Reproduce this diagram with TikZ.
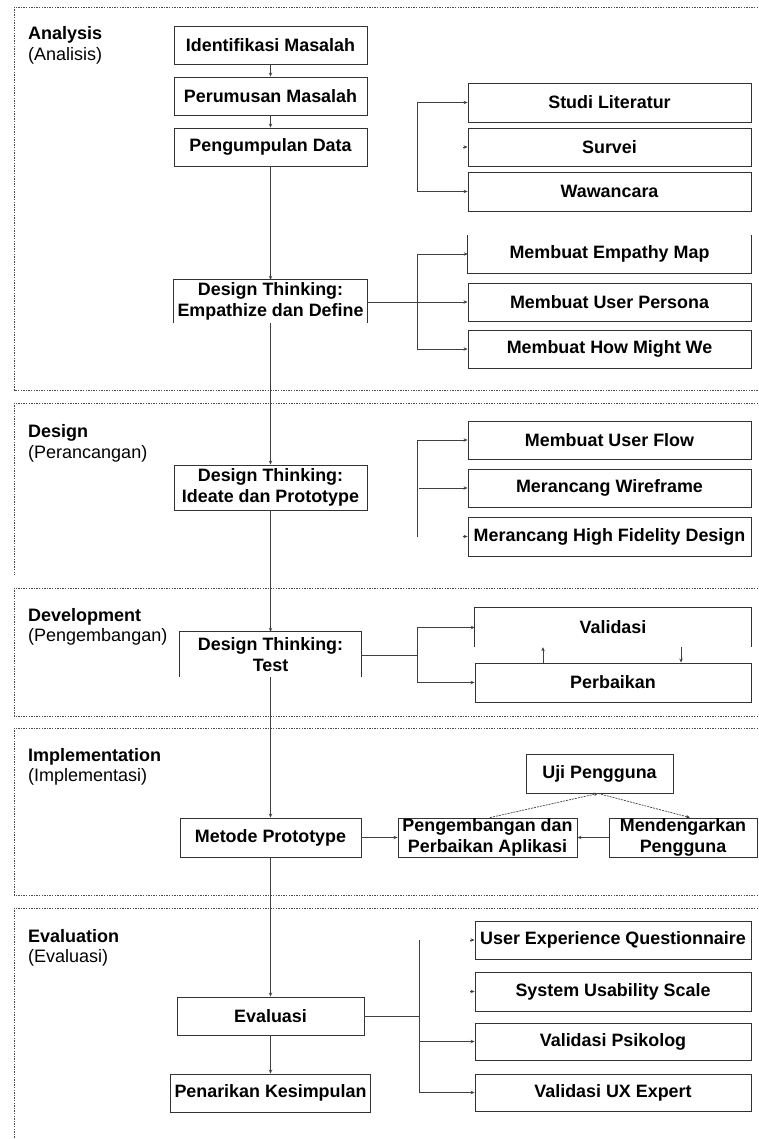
\documentclass[tikz,border=0pt]{standalone}
\usepackage{fontspec}
\setmainfont{Liberation Sans}
\usetikzlibrary{arrows.meta}
\begin{document}
\begin{tikzpicture}[x=1pt,y=-1pt,
  box/.style={draw=black!80,line width=0.9pt,inner sep=0pt,align=center,
    font=\bfseries\fontsize{17.9}{21.5}\selectfont},
  openbox/.style={inner sep=0pt,align=center,
    font=\bfseries\fontsize{17.9}{21.5}\selectfont},
  side/.style={draw=black!80,line width=0.9pt},
  conn/.style={draw=black!75,line width=0.7pt},
  arr/.style={conn,-{Stealth[length=4pt,width=3.4pt]}},
  dsh/.style={arr,dash pattern=on 2pt off 1pt},
  sect/.style={draw=black!70,line width=0.6pt,dash pattern=on 1.4pt off 1.2pt},
  sttl/.style={anchor=base west,inner sep=0pt,font=\bfseries\fontsize{18}{20}\selectfont},
  ssub/.style={anchor=base west,inner sep=0pt,font=\fontsize{18}{20}\selectfont}
]
\useasboundingbox (0,0) rectangle (758,1139);
\fill[white] (0,0) rectangle (758,1139);

% sections
\draw[sect] (758,7) -- (14,7) -- (14,390) -- (758,390);
\draw[sect] (758,403) -- (14,403) -- (14,575);
\draw[sect] (758,588) -- (14,588) -- (14,716) -- (758,716);
\draw[sect] (758,728) -- (14,728) -- (14,895) -- (758,895);
\draw[sect] (758,908) -- (14,908) -- (14,1139);

% section titles
\node[sttl] (t1) at (28,40) {Analysis};
\node[ssub] (s1) at (28,61) {(Analisis)};
\node[sttl] (t2) at (28,437) {Design};
\node[ssub] (s2) at (28,458) {(Perancangan)};
\node[sttl] (t3) at (28,621) {Development};
\node[ssub] (s3) at (28,641) {(Pengembangan)};
\node[sttl] (t4) at (28,761) {Implementation};
\node[ssub] (s4) at (28,781) {(Implementasi)};
\node[sttl] (t5) at (28,942) {Evaluation};
\node[ssub] (s5) at (28,962) {(Evaluasi)};

% main column
\node[box,minimum width=193,minimum height=38] (im) at (270.5,45) {Identifikasi Masalah};
\node[box,minimum width=193,minimum height=38] (pm) at (270.5,96) {Perumusan Masalah};
\node[box,minimum width=193,minimum height=38] (pd) at (270.5,147) {Pengumpulan Data};
\node[openbox,minimum width=193,minimum height=43] (dt1) at (270.5,301.5) {Design Thinking:\\Empathize dan Define};
\draw[side] (dt1.south west) -- (dt1.north west) -- (dt1.north east) -- (dt1.south east);
\node[box,minimum width=193,minimum height=45] (dt2) at (270.5,487.5) {Design Thinking:\\Ideate dan Prototype};
\node[openbox,minimum width=181,minimum height=45] (dt3) at (270.5,654.5) {Design Thinking:\\Test};
\draw[side] (dt3.south west) -- (dt3.north west) -- (dt3.north east) -- (dt3.south east);
\node[box,minimum width=181,minimum height=39] (mp) at (270.5,837.5) {Metode Prototype};
\node[box,minimum width=187,minimum height=38] (ev) at (270.5,1016) {Evaluasi};
\node[box,minimum width=200,minimum height=38] (pk) at (270.5,1093) {Penarikan Kesimpulan};

% right column analysis
\node[box,minimum width=283,minimum height=39] (sl) at (609.5,102.5) {Studi Literatur};
\node[box,minimum width=283,minimum height=38] (sv) at (609.5,147) {Survei};
\node[box,minimum width=283,minimum height=39] (ww) at (609.5,191.5) {Wawancara};
\node[openbox,minimum width=283,minimum height=38] (em) at (609.5,254) {Membuat Empathy Map};
\draw[side] (em.north west) -- (em.south west) -- (em.south east) -- (em.north east);
\node[box,minimum width=283,minimum height=38] (up) at (609.5,302) {Membuat User Persona};
\node[box,minimum width=283,minimum height=38] (hm) at (609.5,349) {Membuat How Might We};

% design
\node[box,minimum width=283,minimum height=38] (uf) at (609.5,440) {Membuat User Flow};
\node[box,minimum width=283,minimum height=38] (wf) at (609.5,488) {Merancang Wireframe};
\node[box,minimum width=283,minimum height=39] (hf) at (609.5,536.5) {Merancang High Fidelity Design};

% development
\node[openbox,minimum width=276,minimum height=39] (va) at (613,627.5) {Validasi};
\draw[side] (va.south west) -- (va.north west) -- (va.north east) -- (va.south east);
\node[box,minimum width=276,minimum height=39] (pb) at (613,682.5) {Perbaikan};

% implementation
\node[box,minimum width=147,minimum height=39] (uji) at (599.5,773.5) {Uji Pengguna};
\node[box,minimum width=179,minimum height=39] (ppa) at (487.5,837.5) {Pengembangan dan\\Perbaikan Aplikasi};
\node[box,minimum width=148,minimum height=39] (mdp) at (683,837.5) {Mendengarkan\\Pengguna};

% evaluation
\node[box,minimum width=276,minimum height=38] (ueq) at (613,940) {User Experience Questionnaire};
\node[box,minimum width=276,minimum height=39] (sus) at (613,991.5) {System Usability Scale};
\node[box,minimum width=276,minimum height=37] (vp) at (613,1041.5) {Validasi Psikolog};
\node[box,minimum width=276,minimum height=37] (vux) at (613,1092.5) {Validasi UX Expert};

% main arrows
\draw[arr] (im) -- (pm);
\draw[arr] (pm) -- (pd);
\draw[arr] (pd) -- (dt1);
\draw[arr] (dt1) -- (dt2);
\draw[arr] (dt2) -- (dt3);
\draw[arr] (dt3) -- (mp);
\draw[arr] (mp) -- (ev);
\draw[arr] (ev) -- (pk);

% bracket 1
\coordinate (b1t) at (417,102.5);
\coordinate (b1b) at (417,191.5);
\coordinate (svt) at (463,147);
\draw[arr] (b1b) -- (b1t) -- (sl.west);
\draw[arr] (b1t) -- (b1b) -- (ww.west);
\draw[arr] (svt) -- (sv.west);

% bracket 2
\coordinate (b2t) at (417,254);
\coordinate (b2b) at (417,349);
\draw[arr] (dt1.east |- up.west) -- (up.west);
\draw[arr] (b2b) -- (b2t) -- (em.west);
\draw[arr] (b2t) -- (b2b) -- (hm.west);

% bracket 3
\coordinate (b3t) at (417,440);
\coordinate (b3b) at (417,537);
\coordinate (b3m) at (419,488);
\coordinate (hft) at (463,536.5);
\draw[arr] (b3b) -- (b3t) -- (uf.west);
\draw[arr] (b3m) -- (wf.west);
\draw[arr] (hft) -- (hf.west);

% bracket 4
\coordinate (b4t) at (417,627.5);
\coordinate (b4b) at (417,682.5);
\coordinate (b4m) at (417,655);
\draw[conn] (dt3.east |- b4m) -- (b4m);
\draw[arr] (b4b) -- (b4t) -- (va.west);
\draw[arr] (b4t) -- (b4b) -- (pb.west);
\coordinate (ux) at (543,0);
\coordinate (dx) at (681,0);
\draw[arr] (pb.north -| ux) -- (va.south -| ux);
\draw[arr] (va.south -| dx) -- (pb.north -| dx);

% implementation
\coordinate (p1) at (490,0);
\coordinate (p2) at (598,0);
\coordinate (p3) at (690,0);
\draw[arr] (mp.east) -- (ppa.west);
\draw[arr] (mdp.west) -- (ppa.east);
\draw[dsh] (ppa.north -| p1) -- (uji.south -| p2);
\draw[dsh] (uji.south -| p2) -- (mdp.north -| p3);

% bracket 5
\coordinate (b5t) at (419,940);
\coordinate (b5b) at (419,1092.5);
\coordinate (b5m) at (419,1016);
\coordinate (uqt) at (470,940);
\coordinate (sst) at (470,991.5);
\draw[conn] (ev.east) -- (b5m);
\draw[conn] (b5t) -- (b5b);
\draw[arr] (b5t |- vp.west) -- (vp.west);
\draw[arr] (b5b) -- (vux.west);
\draw[arr] (uqt) -- (ueq.west);
\draw[arr] (sst) -- (sus.west);
\end{tikzpicture}
\end{document}
